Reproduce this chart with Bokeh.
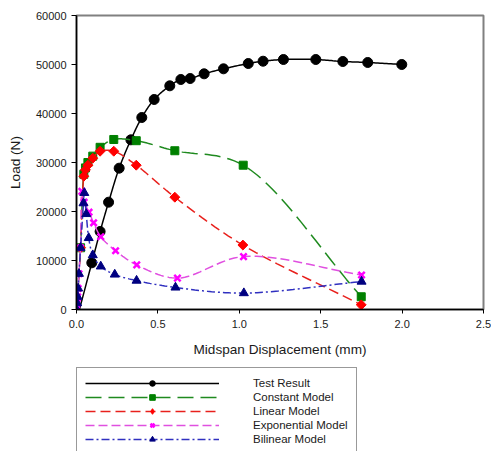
import numpy as np
from bokeh.plotting import figure
from bokeh.layouts import column
from bokeh.models import Range1d, FixedTicker, NumeralTickFormatter, Legend, LegendItem
from bokeh.embed import file_html
from bokeh.resources import INLINE

# ---- data ----
test_x = [0.018, 0.094, 0.145, 0.197, 0.262, 0.334, 0.401, 0.477, 0.573, 0.641, 0.698,
          0.784, 0.903, 1.055, 1.146, 1.271, 1.470, 1.636, 1.789, 1.998]
test_y = [0, 9530, 15920, 21900, 28840, 34630, 39180, 42860, 45650, 46940, 47140,
          48100, 49120, 50200, 50670, 51020, 51020, 50610, 50410, 50000]

const_x = [0, 0.004, 0.007, 0.010, 0.015, 0.025, 0.045, 0.055, 0.07, 0.10, 0.145,
           0.229, 0.367, 0.604, 1.024, 1.749]
const_y = [0, 1300, 2600, 4300, 7300, 12600, 27600, 28900, 30000, 31300, 33100,
           34700, 34450, 32400, 29450, 2600]

lin_x = [0, 0.004, 0.007, 0.010, 0.015, 0.025, 0.045, 0.055, 0.07, 0.10, 0.145,
         0.229, 0.367, 0.604, 1.022, 1.749]
lin_y = [0, 1300, 2600, 4300, 7300, 12600, 27200, 28500, 29450, 30880, 32300,
         32300, 29450, 22920, 13150, 950]

exp_x = [0, 0.004, 0.007, 0.010, 0.015, 0.025, 0.033, 0.047, 0.077, 0.105, 0.149,
         0.240, 0.370, 0.620, 1.026, 1.751]
exp_y = [0, 1300, 2600, 4300, 7300, 12600, 24100, 21900, 19860, 17690, 14850,
         12000, 9100, 6400, 10800, 7050]

bil_x = [0, 0.004, 0.007, 0.010, 0.015, 0.025, 0.043, 0.048, 0.060, 0.075, 0.100,
         0.149, 0.235, 0.369, 0.608, 1.028, 1.751]
bil_y = [0, 1300, 2600, 4300, 7300, 12600, 21700, 23800, 19500, 14600, 11100,
         8800, 7150, 5900, 4500, 3350, 5700]

series_names = ["Test Result", "Constant Model", "Linear Model",
                "Exponential Model", "Bilinear Model"]

x_ticks = [0, 0.5, 1.0, 1.5, 2.0, 2.5]
y_ticks = [0, 10000, 20000, 30000, 40000, 50000, 60000]

FONT = "Liberation Sans"
SX, SY = 162.8, 0.0049  # screen px per data unit (smoothing done in screen space)

# (line colour, dash, marker, marker size, marker colour, angle)
STYLES = [
    ("black", "solid", "circle", 10, "black", 0.0),
    ("#1f8a1f", "16 7", "square", 8, "#008000", 0.0),
    ("#e8201c", "10 5", "square", 7, "#ff0000", 0.785398),
    ("#e050e0", "9 4", "x", 9, "#ff00ff", 0.0),
    ("#3030c0", "8 3 2 3", "triangle", 9, "#000080", 0.0),
]
LEGEND_MARKERS = ["circle", "square", "diamond", "x", "triangle"]


def smooth(xs, ys, n=16):
    P = np.column_stack([np.asarray(xs, float) * SX, np.asarray(ys, float) * SY])
    P = np.vstack([2 * P[0] - P[1], P, 2 * P[-1] - P[-2]])
    out = []
    for i in range(1, len(P) - 2):
        p0, p1, p2, p3 = P[i - 1], P[i], P[i + 1], P[i + 2]
        t0 = 0.0
        t1 = t0 + max(np.linalg.norm(p1 - p0), 1e-6) ** 0.5
        t2 = t1 + max(np.linalg.norm(p2 - p1), 1e-6) ** 0.5
        t3 = t2 + max(np.linalg.norm(p3 - p2), 1e-6) ** 0.5
        t = np.linspace(t1, t2, n, endpoint=False)[:, None]
        A1 = (t1 - t) / (t1 - t0) * p0 + (t - t0) / (t1 - t0) * p1
        A2 = (t2 - t) / (t2 - t1) * p1 + (t - t1) / (t2 - t1) * p2
        A3 = (t3 - t) / (t3 - t2) * p2 + (t - t2) / (t3 - t2) * p3
        B1 = (t2 - t) / (t2 - t0) * A1 + (t - t0) / (t2 - t0) * A2
        B2 = (t3 - t) / (t3 - t1) * A2 + (t - t1) / (t3 - t1) * A3
        C = (t2 - t) / (t2 - t1) * B1 + (t - t1) / (t2 - t1) * B2
        out.append(C)
    out.append(P[-2][None, :])
    C = np.vstack(out)
    return C[:, 0] / SX, C[:, 1] / SY


def add_series(fig, xs, ys, style, mstart=0, marker=None):
    lc, dash, mk, ms, mc, ang = style
    mk = marker or mk
    if len(xs) > 1:
        sx, sy = smooth(xs, ys)
    else:
        sx, sy = xs, ys
    lr = fig.line(sx, sy, line_color=lc, line_width=1.5, line_dash=dash)
    if mk == "x":
        mr = fig.scatter(xs[mstart:], ys[mstart:], marker=mk, size=ms, line_width=2.5,
                         line_color=mc)
    else:
        mr = fig.scatter(xs[mstart:], ys[mstart:], marker=mk, size=ms, angle=ang,
                         fill_color=mc, line_color=mc)
    return lr, mr


# ---------------- main plot ----------------
p = figure(width=491, height=362, output_backend="svg", toolbar_location=None,
           x_range=Range1d(0, 2.5), y_range=Range1d(0, 60000),
           min_border_left=76, min_border_right=8, min_border_top=15, min_border_bottom=53)
p.xgrid.visible = False
p.ygrid.visible = False
p.background_fill_color = "white"
p.border_fill_color = "white"
p.outline_line_color = "#808080"
p.outline_line_width = 2

for ax in (p.xaxis[0], p.yaxis[0]):
    ax.axis_line_color = "black"
    ax.axis_line_width = 1.5
    ax.major_tick_line_color = "black"
    ax.major_tick_in = 0
    ax.major_tick_out = 5
    ax.minor_tick_line_color = None
    ax.major_label_text_font = FONT
    ax.major_label_text_font_size = "11px"
    ax.major_label_text_color = "#1a1a1a"
    ax.axis_label_text_font = FONT
    ax.axis_label_text_font_size = "13.6px"
    ax.axis_label_text_font_style = "normal"
    ax.axis_label_text_color = "#1a1a1a"

p.xaxis.ticker = FixedTicker(ticks=x_ticks)
p.yaxis.ticker = FixedTicker(ticks=y_ticks)
p.xaxis.formatter = NumeralTickFormatter(format="0.0")
p.yaxis.formatter = NumeralTickFormatter(format="0")
p.xaxis.axis_label = "Midspan Displacement (mm)"
p.yaxis.axis_label = "Load (N)"
p.xaxis.major_tick_out = 4
p.xaxis.major_label_standoff = 6
p.xaxis.axis_label_standoff = 11
p.yaxis.major_label_standoff = 5
p.yaxis.axis_label_standoff = 10

add_series(p, test_x, test_y, STYLES[0], mstart=1)
add_series(p, const_x, const_y, STYLES[1], mstart=5)
add_series(p, lin_x, lin_y, STYLES[2], mstart=5)
add_series(p, exp_x, exp_y, STYLES[3])
add_series(p, bil_x, bil_y, STYLES[4])

# ---------------- legend strip below ----------------
LH = 89
q = figure(width=491, height=LH, output_backend="svg", toolbar_location=None,
           x_range=Range1d(0, 1), y_range=Range1d(0, 1),
           min_border_left=74, min_border_right=8, min_border_top=0, min_border_bottom=0)
q.axis.visible = False
q.grid.visible = False
q.outline_line_color = None
q.background_fill_color = "white"
q.border_fill_color = "white"

items = []
for name, st, lm in zip(series_names, STYLES, LEGEND_MARKERS):
    lr, mr = add_series(q, [-5.0], [-5.0], st, marker=lm)
    items.append(LegendItem(label=name, renderers=[lr, mr]))

pad, gh = 8, 14
leg_h = 2 * pad + 5 * gh
legend = Legend(items=items, location=(0, LH - 7 - leg_h), orientation="vertical",
                glyph_width=134, glyph_height=gh, spacing=0, padding=pad, margin=0,
                label_standoff=34, label_text_font=FONT, label_text_font_size="11.5px",
                label_text_color="#1a1a1a", label_height=gh,
                border_line_color="#333333", border_line_width=1,
                background_fill_color="white", background_fill_alpha=1)
q.add_layout(legend, "center")

layout = column(p, q, spacing=0)
open("out.html", "w").write(file_html(layout, INLINE))
